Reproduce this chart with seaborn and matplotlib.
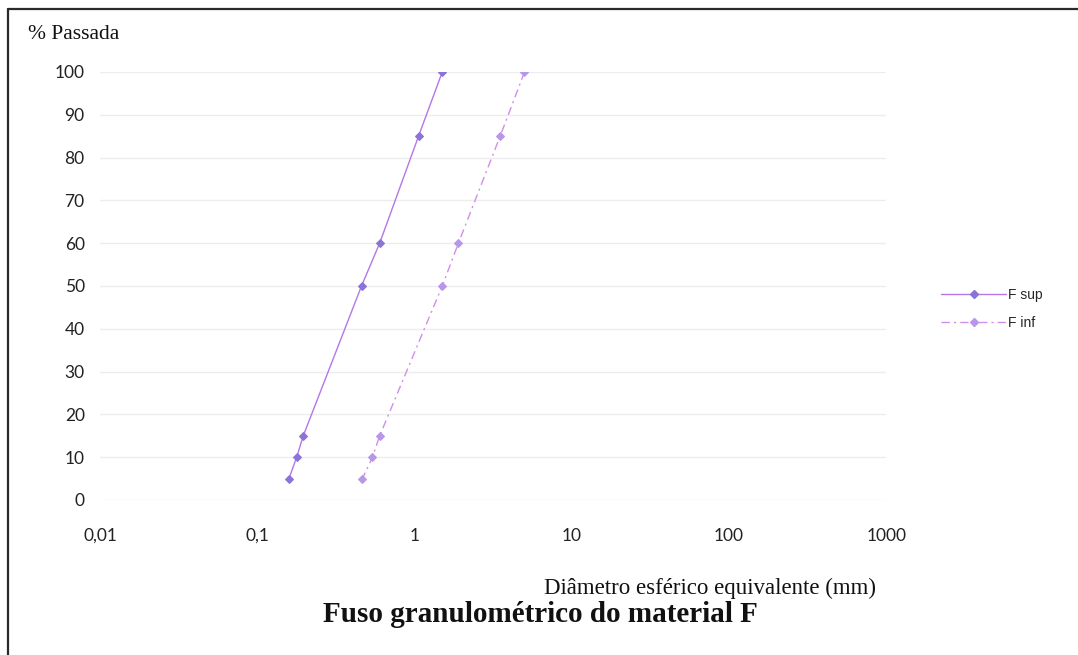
import matplotlib
matplotlib.use("Agg")
import matplotlib.pyplot as plt
from matplotlib.lines import Line2D
import seaborn as sns
import pandas as pd

# Grading envelope for material F: upper and lower limits
pct_passing = [100, 85, 60, 50, 15, 10, 5]
diam_sup = [1.5, 1.06, 0.60, 0.46, 0.196, 0.178, 0.159]
diam_inf = [5.0, 3.5, 1.9, 1.5, 0.60, 0.54, 0.466]
series_names = ["F sup", "F inf"]

x_ticks = [0.01, 0.1, 1, 10, 100, 1000]
x_tick_labels = ["0,01", "0,1", "1", "10", "100", "1000"]
y_ticks = list(range(0, 101, 10))

df = pd.concat([
    pd.DataFrame({"diam": diam_sup, "pct": pct_passing, "serie": series_names[0]}),
    pd.DataFrame({"diam": diam_inf, "pct": pct_passing, "serie": series_names[1]}),
], ignore_index=True)

sns.set_theme(style="white")
plt.rcParams["font.family"] = ["Lato", "DejaVu Sans"]

W, H = 1078, 655
fig = plt.figure(figsize=(W / 100, H / 100), dpi=100)
ax = fig.add_axes([100 / W, (H - 500) / H, (886.4 - 100) / W, (500 - 72) / H])

line_cols = {"F sup": "#b476ea", "F inf": "#cf8fe8"}
dash_inf = (6, 3, 1.5, 3)
ax.set_xscale("log")
sns.lineplot(data=df, x="diam", y="pct", hue="serie", style="serie",
             palette=line_cols, dashes={"F sup": "", "F inf": dash_inf},
             markers={"F sup": "D", "F inf": "D"}, markersize=4.2,
             sort=False, estimator=None, linewidth=1.0, ax=ax, legend=False)

# marker colours: darker for the upper limit, lavender for the lower one
marker_cols = {"F sup": "#8a74d8", "F inf": "#b996ea"}
for ln, name in zip(ax.get_lines(), series_names):
    ln.set_markerfacecolor(marker_cols[name])
    ln.set_markeredgecolor(marker_cols[name])

ax.set_xlim(0.01, 1000)
ax.set_ylim(0, 100)
ax.set_xticks(x_ticks)
ax.set_xticklabels(x_tick_labels)
ax.xaxis.set_minor_locator(matplotlib.ticker.NullLocator())
ax.set_yticks(y_ticks)
ax.tick_params(axis="both", length=0, labelsize=12.5, colors="#222222")
ax.tick_params(axis="y", pad=11)
ax.tick_params(axis="x", pad=20)
ax.grid(axis="y", color="#ededed", linewidth=1.0)
ax.grid(axis="x", visible=False)
for s in ax.spines.values():
    s.set_visible(False)
ax.set_xlabel("")
ax.set_ylabel("")

# legend on the right
handles = [
    Line2D([], [], color=line_cols["F sup"], lw=1.0, marker="D", markersize=3.6,
           markerfacecolor=marker_cols["F sup"], markeredgecolor=marker_cols["F sup"]),
    Line2D([], [], color=line_cols["F inf"], lw=1.0, ls=(0, dash_inf), marker="D",
           markersize=3.6, markerfacecolor=marker_cols["F inf"],
           markeredgecolor=marker_cols["F inf"]),
]
fig.legend(handles, series_names, loc="center left",
           bbox_to_anchor=(934 / W, 1 - 309 / H), bbox_transform=fig.transFigure,
           frameon=False, borderpad=0, handlelength=4.7, handletextpad=0.15,
           labelspacing=1.0, prop={"family": "Liberation Sans", "size": 10})

serif = "Liberation Serif"
fig.text(28 / W, 1 - 39 / H, "% Passada", family=serif, fontsize=15.5,
         ha="left", va="baseline", color="#111111")
fig.text(710 / W, 1 - 588 / H, "Diâmetro esférico equivalente (mm)", family=serif,
         fontsize=16.5, ha="center", va="center", color="#111111")
fig.text(540 / W, 1 - 615 / H, "Fuso granulométrico do material F", family=serif,
         fontsize=21, fontweight="bold", ha="center", va="center", color="#111111")

# frame lines along the top and left edges
fig.add_artist(Line2D([8 / W, 1], [1 - 9 / H, 1 - 9 / H], transform=fig.transFigure,
                      color="#2a2a2a", lw=1.6))
fig.add_artist(Line2D([8 / W, 8 / W], [0, 1 - 9 / H], transform=fig.transFigure,
                      color="#2a2a2a", lw=1.6))

fig.savefig("out.png", dpi=100, facecolor="white")
